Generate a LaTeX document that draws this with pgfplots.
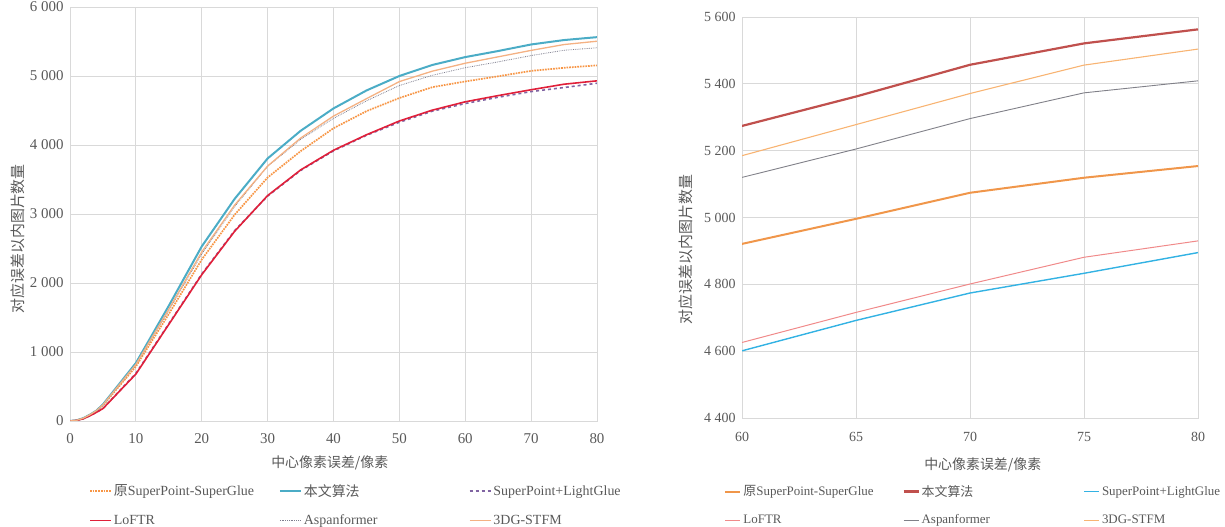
\documentclass[border=0pt]{standalone}
\usepackage{fontspec}
\setmainfont{Liberation Serif}
\newfontfamily\cjk{Noto Sans CJK SC}
\usepackage{pgfplots}
\pgfplotsset{compat=1.18}
\usepackage{pgfplotstable}

\definecolor{gridc}{HTML}{D9D9D9}
\definecolor{textc}{HTML}{595959}
% left chart colours
\definecolor{Lspsg}{HTML}{F79646}
\definecolor{Lours}{HTML}{4BACC6}
\definecolor{Llg}{HTML}{8064A2}
\definecolor{Lloftr}{HTML}{E0203A}
\definecolor{Laspan}{HTML}{7F7F8F}
\definecolor{Lstfm}{HTML}{F4B183}
% right chart colours
\definecolor{Rspsg}{HTML}{F0964A}
\definecolor{Rours}{HTML}{C0504D}
\definecolor{Rlg}{HTML}{33B2E3}
\definecolor{Rloftr}{HTML}{F08A8A}
\definecolor{Raspan}{HTML}{808088}
\definecolor{Rstfm}{HTML}{F8B473}

% x | SP-SG | ours | LightGlue | LoFTR | Aspanformer | 3DG-STFM
\pgfplotstableread{
x  spsg ours lg   loftr aspan stfm
0  0    0    0    0     0     0
1  10   10   8    8     10    10
2  38   40   32   32    40    40
3  85   90   75   75    90    90
4  145  150  125  125   150   150
5  225  240  180  180   235   235
10 790  840  690  680   810   820
15 1550 1670 1410 1400  1600  1620
20 2340 2530 2130 2120  2420  2450
25 2990 3220 2760 2750  3110  3130
30 3529 3805 3260 3267  3690  3695
35 3910 4205 3630 3638  4080  4100
40 4243 4530 3915 3924  4386  4419
45 4490 4790 4140 4148  4640  4671
50 4681 5000 4330 4348  4862  4919
55 4838 5160 4490 4505  5010  5070
60 4921 5274 4601 4626  5120  5185
65 4996 5362 4692 4716  5205  5278
70 5074 5457 4774 4801  5296  5371
75 5119 5521 4833 4881  5373  5456
80 5154 5563 4895 4930  5409  5504
}\datatable

\pgfplotsset{
  mystyle/.style={
    scale only axis,
    grid=major,
    major grid style={draw=gridc, line width=0.8bp},
    axis line style={draw=gridc, line width=0.8bp},
    major tick length=0pt,
    /pgf/number format/assume math mode=true,
    /pgf/number format/1000 sep={\ },
    xlabel style={font=\fontsize{14}{14}\selectfont\cjk, text=textc},
    ylabel style={font=\fontsize{15}{15}\selectfont\cjk, text=textc},
    legend columns=3,
    legend cell align=left,
    legend style={draw=none, fill=none, inner sep=0pt, text=textc,
      /tikz/column sep=0pt, /tikz/row sep=13bp,
      nodes={inner sep=2bp}},
  }
}

\begin{document}
\begin{tikzpicture}
\path[use as bounding box] (0,0) rectangle (1225bp,527bp);

% ---------------- left chart ----------------
\begin{axis}[mystyle,
  at={(70bp,106bp)}, anchor=south west,
  width=527bp, height=414bp,
  xmin=0, xmax=80, ymin=0, ymax=6000,
  xtick={0,10,...,80}, ytick={0,1000,...,6000},
  tick label style={font=\fontsize{15}{15}\selectfont, text=textc},
  xticklabel style={yshift=-9bp},
  yticklabel style={xshift=-3bp},
  xlabel={中心像素误差/像素},
  ylabel={对应误差以内图片数量},
  xlabel style={at={(axis description cs:0.493,-0.102)}, anchor=center},
  ylabel style={at={(axis description cs:-0.099,0.44)}, anchor=center},
  legend image code/.code={\draw[#1] (0bp,0bp) -- (21bp,0bp);},
  legend style={at={(axis description cs:0.036,-0.148)}, anchor=north west,
    font=\fontsize{14}{14}\selectfont},
]
\addplot[Lspsg, line width=1.7bp, densely dotted] table[x=x, y=spsg] {\datatable};
\addlegendentry{\makebox[163bp][l]{{\cjk 原}SuperPoint-SuperGlue}}
\addplot[Lours, line width=2bp] table[x=x, y=ours] {\datatable};
\addlegendentry{\makebox[163bp][l]{{\cjk 本文算法}}}
\addplot[Llg, line width=1.6bp, dashed] table[x=x, y=lg] {\datatable};
\addlegendentry{\makebox[130bp][l]{SuperPoint+LightGlue}}
\addplot[Lloftr, line width=1.6bp] table[x=x, y=loftr] {\datatable};
\addlegendentry{\makebox[163bp][l]{LoFTR}}
\addplot[Laspan, line width=0.8bp, densely dotted] table[x=x, y=aspan] {\datatable};
\addlegendentry{\makebox[163bp][l]{Aspanformer}}
\addplot[Lstfm, line width=1.3bp] table[x=x, y=stfm] {\datatable};
\addlegendentry{\makebox[130bp][l]{3DG-STFM}}
\end{axis}

% ---------------- right chart ----------------
\begin{axis}[mystyle,
  at={(742bp,109bp)}, anchor=south west,
  width=456bp, height=401bp,
  xmin=60, xmax=80, ymin=4400, ymax=5600,
  xtick={60,65,...,80}, ytick={4400,4600,...,5600},
  tick label style={font=\fontsize{14}{14}\selectfont, text=textc},
  xticklabel style={yshift=-11bp},
  yticklabel style={xshift=-3bp},
  xlabel={中心像素误差/像素},
  ylabel={对应误差以内图片数量},
  xlabel style={at={(axis description cs:0.528,-0.117)}, anchor=center},
  ylabel style={at={(axis description cs:-0.123,0.42)}, anchor=center},
  legend image code/.code={\draw[#1] (0bp,0bp) -- (15bp,0bp);},
  legend style={at={(axis description cs:-0.039,-0.1625)}, anchor=north west,
    font=\fontsize{13}{13}\selectfont},
]
\addplot[Rspsg, line width=2bp] table[x=x, y=spsg, restrict x to domain=60:80] {\datatable};
\addlegendentry{\makebox[157bp][l]{{\cjk 原}SuperPoint-SuperGlue}}
\addplot[Rours, line width=2.2bp] table[x=x, y=ours, restrict x to domain=60:80] {\datatable};
\addlegendentry{\makebox[160bp][l]{{\cjk 本文算法}}}
\addplot[Rlg, line width=1.4bp] table[x=x, y=lg, restrict x to domain=60:80] {\datatable};
\addlegendentry{\makebox[110bp][l]{SuperPoint+LightGlue}}
\addplot[Rloftr, line width=1bp] table[x=x, y=loftr, restrict x to domain=60:80] {\datatable};
\addlegendentry{\makebox[157bp][l]{LoFTR}}
\addplot[Raspan, line width=0.9bp] table[x=x, y=aspan, restrict x to domain=60:80] {\datatable};
\addlegendentry{\makebox[160bp][l]{Aspanformer}}
\addplot[Rstfm, line width=1.1bp] table[x=x, y=stfm, restrict x to domain=60:80] {\datatable};
\addlegendentry{\makebox[110bp][l]{3DG-STFM}}
\end{axis}
\end{tikzpicture}
\end{document}
